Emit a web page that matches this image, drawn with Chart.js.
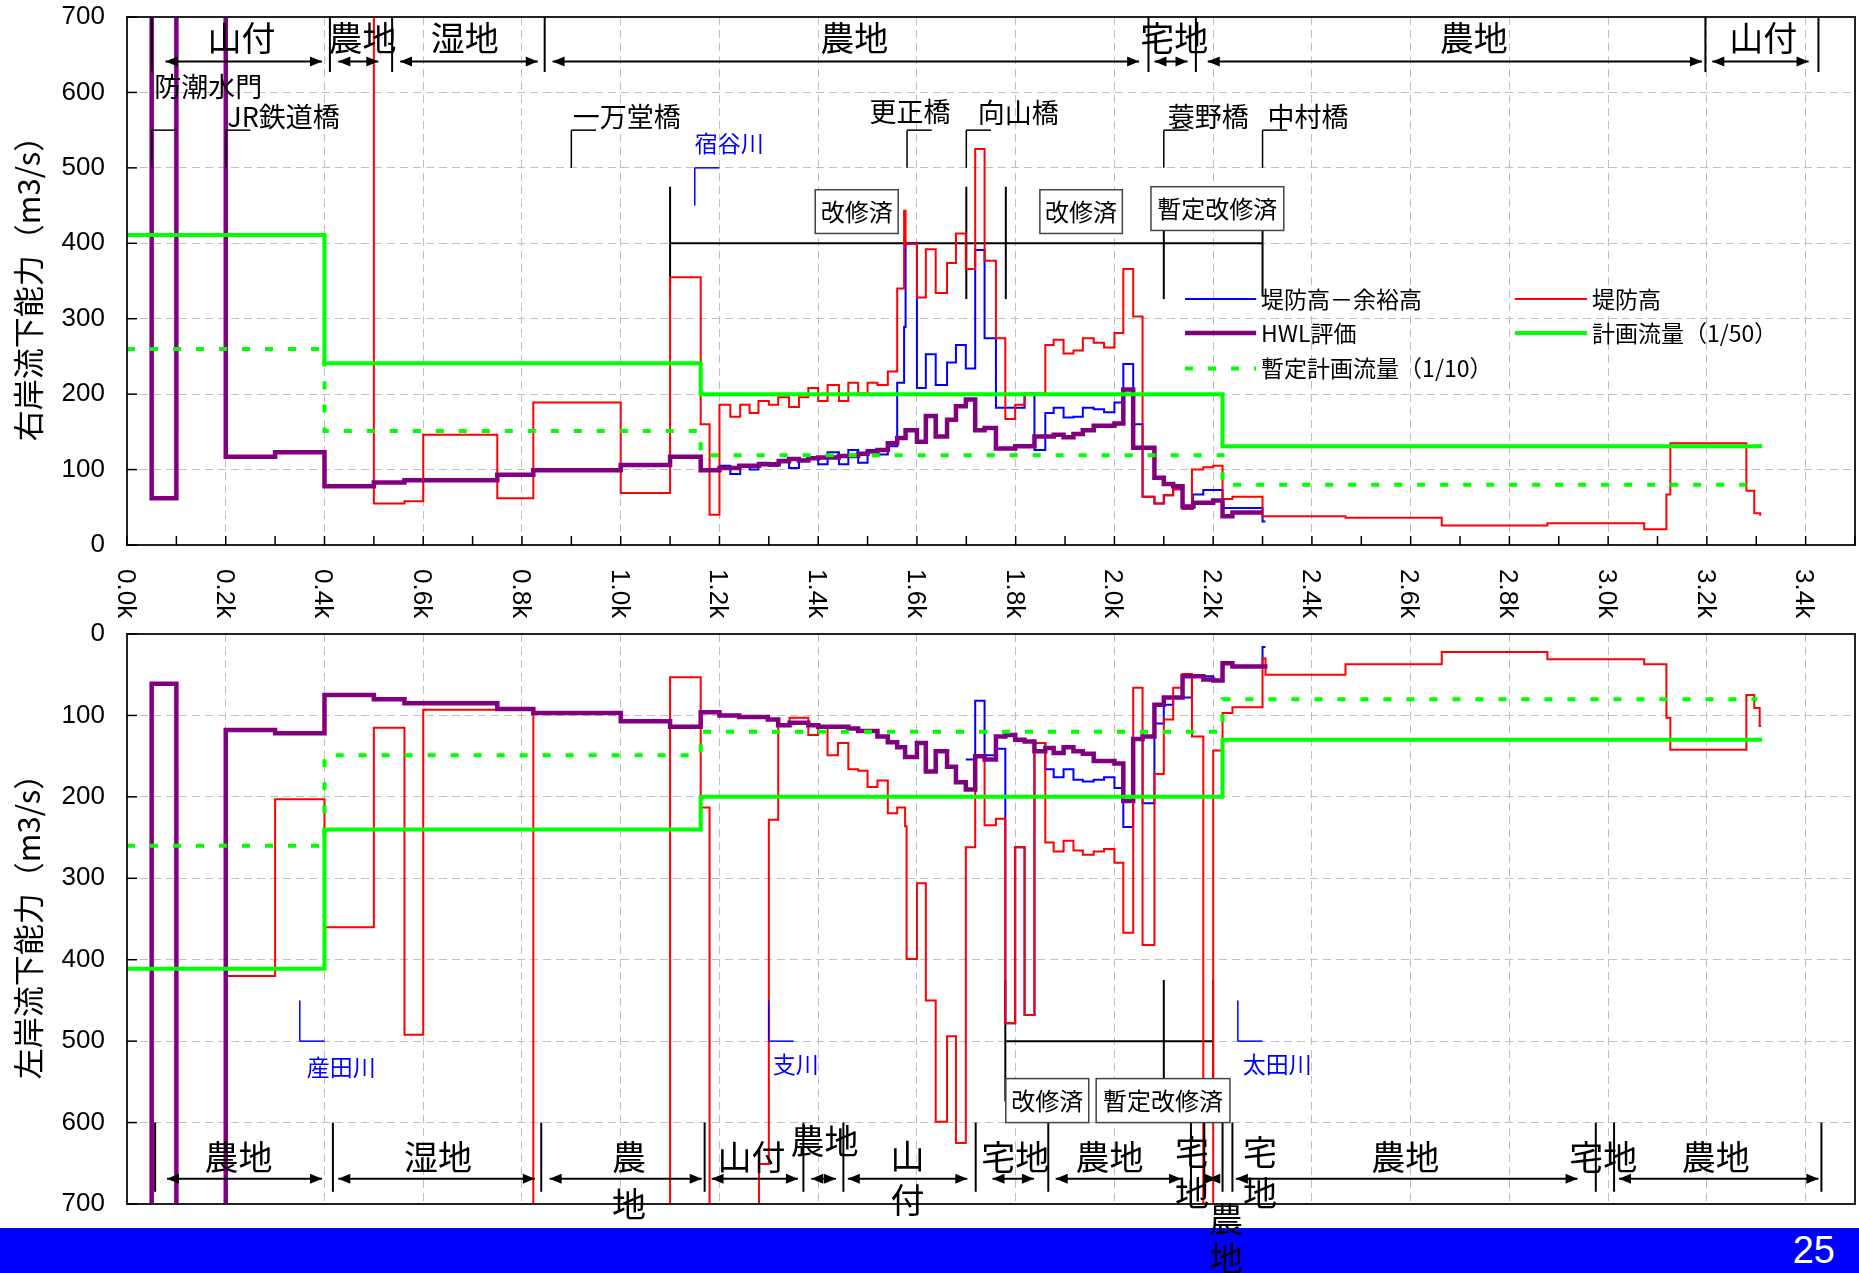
<!DOCTYPE html>
<html>
<head>
<meta charset="utf-8">
<script src="https://cdn.jsdelivr.net/npm/chart.js@4.4.1/dist/chart.umd.min.js"></script>
<style>
html, body { margin: 0; padding: 0; background: #fff; width: 1859px; height: 1273px; overflow: hidden; }
#footer { position: absolute; left: 0; top: 1228px; width: 1859px; height: 45px; background: #0000ff; }
#pageNo { position: absolute; right: 24px; top: 0; color: #fff; font: 38px "Liberation Sans", Arial, sans-serif; line-height: 45px; }
canvas { position: absolute; left: 0; }
#rightBank { top: 0; }
#leftBank { top: 590px; }
</style>
</head>
<body>
<div id="footer"><span id="pageNo">25</span></div>
<canvas id="rightBank" width="1859" height="630"></canvas>
<canvas id="leftBank" width="1859" height="683"></canvas>
<script>
const JP = '"Noto Sans CJK JP", sans-serif';
const NUM = '"Liberation Sans", Arial, sans-serif';
const GRID = '#c0c0c0';

// 距離標 (k) ごとの流下能力 [k, m3/s] 、区間の始まりの値。1500 はグラフ外
// 右岸
const rbDike = [[0,1500],[0.5,55],[0.562,58],[0.6,146],[0.75,62],[0.823,189],[1.0,69],[1.1,355],[1.162,160],[1.18,40],
  [1.2,186],[1.222,170],[1.242,186],[1.261,175],[1.279,191],[1.3,186],[1.319,196],[1.341,183],[1.361,196],[1.38,208],
  [1.4,191],[1.419,212],[1.442,191],[1.461,215],[1.481,201],[1.5,215],[1.52,212],[1.541,230],[1.56,340],[1.574,443],
  [1.577,399],[1.6,328],[1.618,392],[1.638,334],[1.661,374],[1.679,413],[1.699,366],[1.718,525],[1.737,377],[1.76,274],
  [1.779,167],[1.799,186],[1.818,201],[1.86,265],[1.877,272],[1.897,254],[1.917,258],[1.936,274],[1.958,268],[1.979,262],
  [2.0,281],[2.018,366],[2.038,303],[2.057,64],[2.081,55],[2.1,66],[2.119,74],[2.138,48],[2.157,100],[2.18,103],
  [2.2,105],[2.219,61],[2.239,64],[2.3,38],[2.468,36],[2.663,26],[2.877,29],[3.073,21],[3.118,67],[3.126,135],
  [3.28,72],[3.296,42],[3.308,40],[3.31,40]];
const rbFree = [[1.2,105],[1.222,94],[1.242,105],[1.261,100],[1.279,109],[1.3,105],[1.319,113],[1.341,102],[1.361,113],
  [1.38,114],[1.4,107],[1.419,123],[1.442,107],[1.461,126],[1.481,109],[1.5,126],[1.52,120],[1.541,131],[1.56,215],
  [1.574,289],[1.577,400],[1.6,208],[1.618,253],[1.638,212],[1.661,242],[1.679,265],[1.699,234],[1.718,391],[1.737,274],
  [1.76,182],[1.818,200],[1.838,126],[1.86,175],[1.877,182],[1.897,169],[1.917,170],[1.936,182],[1.958,180],[1.979,176],
  [2.0,189],[2.018,240],[2.038,160],[2.057,64],[2.081,55],[2.1,66],[2.119,74],[2.138,48],[2.159,67],[2.18,73],
  [2.219,49],[2.3,31],[2.306,31]];
const rbHwl = [[0,1500],[0.05,62],[0.1,1500],[0.2,117],[0.3,123],[0.4,78],[0.5,83],[0.562,86],[0.75,93],[0.823,99],
  [1.0,106],[1.1,117],[1.162,99],[1.2,102],[1.24,105],[1.28,107],[1.32,111],[1.341,114],[1.361,112],[1.38,115],
  [1.4,116],[1.442,118],[1.481,121],[1.5,124],[1.52,126],[1.541,135],[1.56,142],[1.577,152],[1.6,137],[1.618,171],
  [1.638,144],[1.661,166],[1.679,184],[1.699,193],[1.718,152],[1.737,155],[1.76,128],[1.799,131],[1.838,144],[1.877,146],
  [1.897,143],[1.917,147],[1.936,152],[1.958,158],[2.0,161],[2.018,206],[2.038,129],[2.081,89],[2.1,81],[2.119,78],
  [2.138,51],[2.16,56],[2.2,59],[2.219,38],[2.239,43],[2.3,43]];
const rbPlan = [[0,411],[0.4,241],[1.162,200],[2.219,131],[3.312,131]];
const rbTemp = [[0,260],[0.4,151],[1.162,119],[2.219,80],[3.28,80]];

// 左岸
const lbDike = [[0,1500],[0.2,420],[0.3,203],[0.4,360],[0.5,115],[0.562,492],[0.6,93],[0.823,1500],[1.1,53],[1.162,213],
  [1.18,1500],[1.28,651],[1.3,228],[1.319,113],[1.342,103],[1.38,124],[1.4,114],[1.419,149],[1.44,134],[1.461,166],
  [1.481,168],[1.5,188],[1.52,180],[1.541,220],[1.56,213],[1.576,236],[1.579,399],[1.6,306],[1.618,450],[1.638,599],
  [1.661,494],[1.679,625],[1.699,262],[1.718,149],[1.737,235],[1.76,227],[1.779,478],[1.799,262],[1.818,468],[1.838,134],
  [1.86,256],[1.877,267],[1.897,254],[1.917,266],[1.936,271],[1.958,267],[1.979,264],[2.0,281],[2.018,367],[2.038,66],
  [2.057,382],[2.081,172],[2.1,105],[2.119,66],[2.138,49],[2.157,126],[2.18,1500],[2.2,143],[2.219,97],[2.239,90],
  [2.3,30],[2.306,50],[2.468,37],[2.663,22],[2.877,31],[3.073,37],[3.118,103],[3.126,142],[3.28,75],[3.296,91],
  [3.307,113],[3.31,113]];
const lbFree = [[1.699,154],[1.718,82],[1.737,149],[1.76,141],[1.779,478],[1.799,262],[1.818,468],[1.838,134],[1.86,166],
  [1.877,176],[1.897,166],[1.917,179],[1.936,181],[1.958,179],[1.979,176],[2.0,189],[2.018,237],[2.038,128],[2.057,208],
  [2.081,110],[2.1,87],[2.119,78],[2.157,52],[2.2,57],[2.219,36],[2.239,40],[2.3,16],[2.306,16]];
const lbHwl = [[0,1500],[0.05,61],[0.1,1500],[0.2,118],[0.3,122],[0.4,75],[0.5,80],[0.562,85],[0.75,92],[0.823,97],
  [1.0,107],[1.1,114],[1.162,96],[1.2,100],[1.24,102],[1.298,105],[1.319,112],[1.342,109],[1.38,112],[1.4,114],
  [1.461,116],[1.481,119],[1.52,126],[1.541,133],[1.56,139],[1.576,151],[1.6,134],[1.618,169],[1.638,144],[1.661,163],
  [1.679,182],[1.699,191],[1.718,150],[1.737,154],[1.76,126],[1.779,124],[1.799,130],[1.818,132],[1.838,144],[1.86,140],
  [1.877,146],[1.897,139],[1.917,144],[1.936,147],[1.958,156],[2.0,159],[2.018,205],[2.038,129],[2.057,126],[2.081,87],
  [2.1,78],[2.138,52],[2.18,56],[2.2,57],[2.219,36],[2.239,40],[2.31,40]];
const lbPlan = [[0,411],[0.4,240],[1.162,200],[2.219,130],[3.312,130]];
const lbTemp = [[0,260],[0.4,149],[1.162,120],[2.219,80],[3.302,80]];

// 目盛り
const xLabelKm = [0,0.2,0.4,0.6,0.8,1.0,1.2,1.4,1.6,1.8,2.0,2.2,2.4,2.6,2.8,3.0,3.2,3.4];

// 土地利用区分 (右岸: 上, 左岸: 下)
const rbZoneBounds = [0.05,0.411,0.537,0.846,2.069,2.165,3.197,3.426];
const rbZoneArrows = [[0.078,0.395],[0.428,0.509],[0.553,0.832],[0.862,2.05],[2.081,2.148],[2.189,3.19],[3.211,3.406]];
const rbZoneNames = [['山付',0.232,672],['農地',0.477,672],['湿地',0.684,672],['農地',1.473,672],['宅地',2.121,672],['農地',2.728,672],['山付',3.314,672]];
const lbZoneBounds = [0.057,0.417,0.839,1.17,1.37,1.451,1.719,1.866,2.155,2.182,2.219,2.239,2.975,3.012,3.432];
const lbZoneArrows = [[0.081,0.395],[0.428,0.826],[0.856,1.164],[1.184,1.359],[1.386,1.436],[1.46,1.702],[1.753,1.837],[1.881,2.135],[2.19,2.207],[2.246,2.938],[3.022,3.426]];
const lbZoneNames = [['農地',0.226,642],['湿地',0.63,642],['農',1.017,642],['地',1.017,700],['山付',1.265,642],['農地',1.413,623],
  ['山',1.581,641],['付',1.581,695],['宅地',1.799,642],['農地',1.99,642],['宅',2.157,636],['地',2.157,687],['農',2.226,718],
  ['地',2.226,767],['宅',2.295,636],['地',2.295,687],['農地',2.589,642],['宅地',2.99,642],['農地',3.218,642]];

// 橋梁・支川 [名称, 文字k, 文字位置, 引出線k]
const rbBridges = [['防潮水門',0.055,608,0.05],['JR鉄道橋',0.203,568,0.2],['一万堂橋',0.903,568,0.9],['更正橋',1.504,575,1.58],
  ['向山橋',1.723,573,1.7],['蓑野橋',2.108,568,2.1],['中村橋',2.31,568,2.3]];
const rbRivers = [['宿谷川',1.15,533,1.15]];
const lbRivers = [['産田川',0.364,532,0.35],['支川',1.308,528,1.3],['太田川',2.26,529,2.25]];

// 改修状況
const rbWorkLines = [[1.1,400,2.3,400],[1.1,475,1.1,326],[1.7,475,1.7,326],[1.78,475,1.78,326],[2.1,418,2.1,326],[2.3,418,2.3,330]];
const rbWorkBoxes = [['改修済',1.394,1.562,471,413],['改修済',1.849,2.016,471,413],['暫定改修済',2.074,2.343,475,417]];
const lbWorkLines = [[1.779,500,2.2,500],[1.779,425,1.779,574],[2.1,425,2.1,546],[2.2,425,2.2,546]];
const lbWorkBoxes = [['改修済',1.78,1.948,546,600],['暫定改修済',1.963,2.234,546,600]];

// 凡例
const legendRows = [['free',2.143,2.287,326,'堤防高－余裕高'],['hwl',2.143,2.287,281,'HWL評価'],['temp',2.143,2.287,234,'暫定計画流量（1/10）'],
  ['dike',2.811,2.957,326,'堤防高'],['plan',2.811,2.957,281,'計画流量（1/50）']];

const styles = {
  free: { color: '#0000ff', width: 2, dash: [] },
  dike: { color: '#ff0000', width: 2, dash: [] },
  hwl:  { color: '#800080', width: 4.5, dash: [] },
  plan: { color: '#00ff00', width: 4, dash: [] },
  temp: { color: '#00ff00', width: 4, dash: [8, 15] }
};

const toPoints = pairs => pairs.map(([k, q]) => ({ x: k, y: q }));

function seg(ctx, x1, y1, x2, y2) {
  ctx.beginPath(); ctx.moveTo(x1, y1); ctx.lineTo(x2, y2); ctx.stroke();
}
function head(ctx, x, y, dir) {
  ctx.beginPath(); ctx.moveTo(x, y); ctx.lineTo(x - dir * 12, y - 5); ctx.lineTo(x - dir * 12, y + 5); ctx.closePath(); ctx.fill();
}
function label(ctx, str, x, y, size, color, align) {
  ctx.font = size + 'px ' + JP; ctx.fillStyle = color; ctx.textAlign = align; ctx.textBaseline = 'middle';
  ctx.fillText(str, x, y);
}

const decoPlugin = {
  id: 'deco',
  beforeDatasetsDraw(chart, args, o) {
    const { ctx } = chart;
    const px = k => chart.scales.x.getPixelForValue(k);
    const py = v => chart.scales.y.getPixelForValue(v);
    ctx.save();
    ctx.strokeStyle = '#000'; ctx.lineWidth = 2;
    o.workLines.forEach(([k1, v1, k2, v2]) => seg(ctx, px(k1), py(v1), px(k2), py(v2)));
    ctx.restore();
  },
  afterDraw(chart, args, o) {
    const { ctx, chartArea: a } = chart;
    const X = chart.scales.x, Y = chart.scales.y;
    const px = k => X.getPixelForValue(k);
    const py = v => Y.getPixelForValue(v);
    ctx.save();
    // 枠と内向きの目盛り
    ctx.strokeStyle = '#222'; ctx.lineWidth = 2;
    ctx.strokeRect(a.left, a.top, a.right - a.left, a.bottom - a.top);
    ctx.strokeStyle = '#000'; ctx.lineWidth = 1.5;
    Y.ticks.forEach(t => seg(ctx, a.left, py(t.value), a.left + 10, py(t.value)));
    if (o.xLabels) {
      X.ticks.forEach(t => seg(ctx, px(t.value), a.bottom, px(t.value), a.bottom - 9));
      ctx.font = '26px ' + NUM; ctx.fillStyle = '#000'; ctx.textAlign = 'left'; ctx.textBaseline = 'middle';
      xLabelKm.forEach(k => {
        ctx.save();
        ctx.translate(px(k) - 2, a.bottom + 24);
        ctx.rotate(Math.PI / 2);
        ctx.fillText(k.toFixed(1) + 'k', 0, 0);
        ctx.restore();
      });
    }
    // 土地利用
    ctx.strokeStyle = '#000'; ctx.fillStyle = '#000'; ctx.lineWidth = 2;
    o.zoneBounds.forEach(k => seg(ctx, px(k), py(o.zoneSpan[0]), px(k), py(o.zoneSpan[1])));
    ctx.lineWidth = 1.8;
    o.zoneArrows.forEach(([k1, k2]) => {
      const y = py(o.arrowV);
      seg(ctx, px(k1), y, px(k2), y);
      head(ctx, px(k1), y, -1); head(ctx, px(k2), y, 1);
    });
    o.zoneNames.forEach(([s, k, v]) => label(ctx, s, px(k), py(v), 34, '#000', 'center'));
    // 橋梁
    ctx.lineWidth = 1.5;
    o.bridges.forEach(([s, tk, tv, bk]) => {
      ctx.strokeStyle = '#000';
      seg(ctx, px(bk), py(500), px(bk), py(550));
      seg(ctx, px(bk), py(550), px(bk + 0.05), py(550));
      label(ctx, s, px(tk), py(tv), 27, '#000', 'left');
    });
    o.rivers.forEach(([s, tk, tv, bk]) => {
      ctx.strokeStyle = '#0000ff';
      seg(ctx, px(bk), py(450), px(bk), py(500));
      seg(ctx, px(bk), py(500), px(bk + 0.05), py(500));
      label(ctx, s, px(tk), py(tv), 23, '#0000ff', 'left');
    });
    // 改修済の枠
    o.workBoxes.forEach(([s, k1, k2, v1, v2]) => {
      const x = px(k1), y = Math.min(py(v1), py(v2)), w = px(k2) - px(k1), h = Math.abs(py(v2) - py(v1));
      ctx.fillStyle = '#fff'; ctx.fillRect(x, y, w, h);
      ctx.strokeStyle = '#444'; ctx.lineWidth = 1.5; ctx.strokeRect(x, y, w, h);
      label(ctx, s, x + w / 2, y + h / 2, 24, '#000', 'center');
    });
    // 凡例
    o.legend.forEach(([key, k1, k2, v, s]) => {
      const st = styles[key];
      ctx.strokeStyle = st.color; ctx.lineWidth = st.width; ctx.setLineDash(st.dash); ctx.lineCap = 'butt';
      seg(ctx, px(k1), py(v), px(k2), py(v));
      ctx.setLineDash([]);
      label(ctx, s, px(k2) + 5, py(v), 23, '#000', 'left');
    });
    ctx.restore();
  }
};

function datasetsFor(free, dike, hwl, plan, temp) {
  const make = (lbl, data, key, order) => ({
    label: lbl, data: toPoints(data), order: order,
    borderColor: styles[key].color, borderWidth: styles[key].width, borderDash: styles[key].dash,
    stepped: true, pointRadius: 0, fill: false, tension: 0
  });
  return [
    make('暫定計画流量（1/10）', temp, 'temp', 0),
    make('計画流量（1/50）', plan, 'plan', 1),
    make('HWL評価', hwl, 'hwl', 2),
    make('堤防高', dike, 'dike', 3),
    make('堤防高－余裕高', free, 'free', 4)
  ];
}

function scalesFor(reverse, title, xHeight) {
  return {
    x: {
      type: 'linear', min: 0, max: 3.5,
      afterFit: s => { s.height = xHeight; s.paddingLeft = 0; s.paddingRight = 0; },
      ticks: { display: false, stepSize: 0.1, autoSkip: false },
      grid: {
        drawTicks: false, lineWidth: 1,
        color: c => { const n = Math.round(c.tick.value * 10); return (n % 2 === 0 && n > 0 && n < 35) ? GRID : 'rgba(0,0,0,0)'; }
      },
      border: { display: false, dash: [8, 5] }
    },
    y: {
      min: 0, max: 700, reverse: reverse,
      afterFit: s => { s.width = 127; s.paddingTop = 0; s.paddingBottom = 0; },
      ticks: { stepSize: 100, padding: 22, color: '#000', font: { family: NUM, size: 26 } },
      grid: { drawTicks: false, lineWidth: 1, color: c => (c.tick.value > 0 && c.tick.value < 700) ? GRID : 'rgba(0,0,0,0)' },
      border: { display: false, dash: [8, 5] },
      title: { display: true, text: title, color: '#000', font: { family: JP, size: 31 }, padding: { top: 10, bottom: 0 } }
    }
  };
}

new Chart(document.getElementById('rightBank'), {
  type: 'line',
  data: { datasets: datasetsFor(rbFree, rbDike, rbHwl, rbPlan, rbTemp) },
  options: {
    responsive: false, animation: false,
    layout: { padding: { top: 17, right: 4, left: 0, bottom: 0 } },
    scales: scalesFor(false, '右岸流下能力（m3/s）', 85),
    plugins: {
      legend: { display: false }, tooltip: { enabled: false },
      deco: {
        xLabels: true, zoneBounds: rbZoneBounds, zoneSpan: [627, 700], zoneArrows: rbZoneArrows, arrowV: 641,
        zoneNames: rbZoneNames, bridges: rbBridges, rivers: rbRivers, workLines: rbWorkLines, workBoxes: rbWorkBoxes,
        legend: legendRows
      }
    }
  },
  plugins: [decoPlugin]
});

new Chart(document.getElementById('leftBank'), {
  type: 'line',
  data: { datasets: datasetsFor(lbFree, lbDike, lbHwl, lbPlan, lbTemp) },
  options: {
    responsive: false, animation: false,
    layout: { padding: { top: 44, right: 4, left: 0, bottom: 0 } },
    scales: scalesFor(true, '左岸流下能力（m3/s）', 69),
    plugins: {
      legend: { display: false }, tooltip: { enabled: false },
      deco: {
        xLabels: false, zoneBounds: lbZoneBounds, zoneSpan: [600, 685], zoneArrows: lbZoneArrows, arrowV: 669,
        zoneNames: lbZoneNames, bridges: [], rivers: lbRivers, workLines: lbWorkLines, workBoxes: lbWorkBoxes,
        legend: []
      }
    }
  },
  plugins: [decoPlugin]
});
</script>
</body>
</html>
